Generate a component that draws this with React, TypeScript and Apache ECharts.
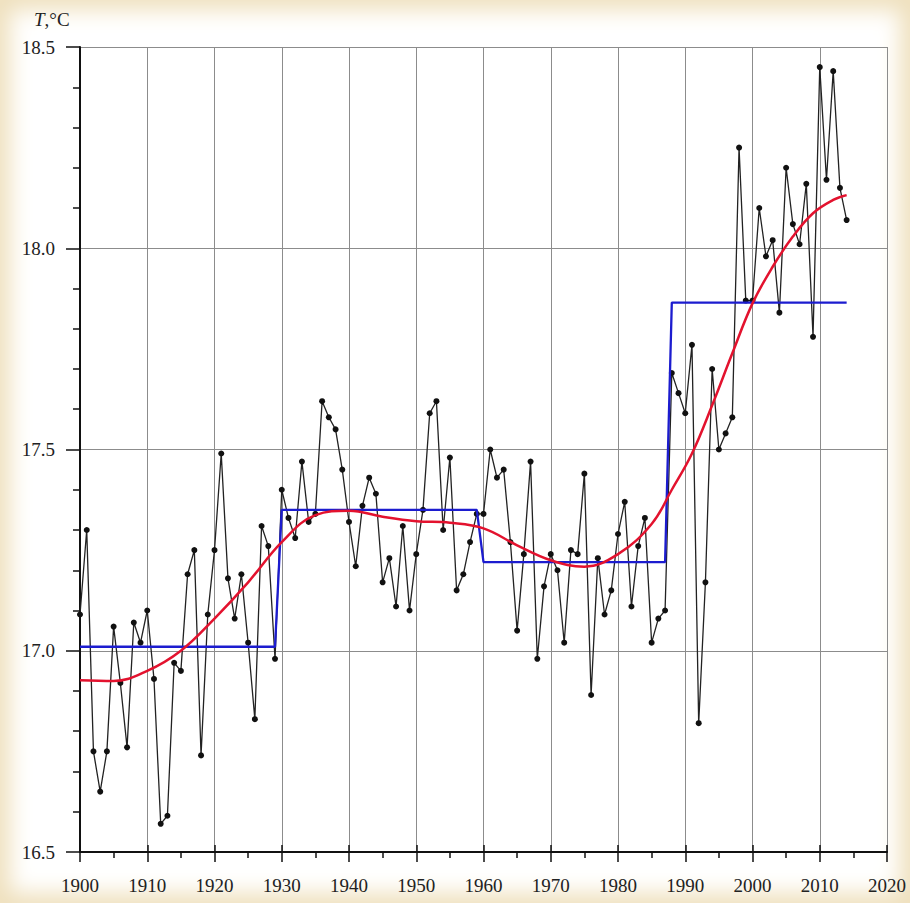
import React, { useEffect, useRef } from "react";
import * as echarts from "echarts";

// Annual mean temperature, 1900–2014
const years: number[] = [];
for (let y = 1900; y <= 2014; y++) years.push(y);

const temps: number[] = [
  17.09, 17.30, 16.75, 16.65, 16.75, 17.06, 16.92, 16.76, 17.07, 17.02,
  17.10, 16.93, 16.57, 16.59, 16.97, 16.95, 17.19, 17.25, 16.74, 17.09,
  17.25, 17.49, 17.18, 17.08, 17.19, 17.02, 16.83, 17.31, 17.26, 16.98,
  17.40, 17.33, 17.28, 17.47, 17.32, 17.34, 17.62, 17.58, 17.55, 17.45,
  17.32, 17.21, 17.36, 17.43, 17.39, 17.17, 17.23, 17.11, 17.31, 17.10,
  17.24, 17.35, 17.59, 17.62, 17.30, 17.48, 17.15, 17.19, 17.27, 17.34,
  17.34, 17.50, 17.43, 17.45, 17.27, 17.05, 17.24, 17.47, 16.98, 17.16,
  17.24, 17.20, 17.02, 17.25, 17.24, 17.44, 16.89, 17.23, 17.09, 17.15,
  17.29, 17.37, 17.11, 17.26, 17.33, 17.02, 17.08, 17.10, 17.69, 17.64,
  17.59, 17.76, 16.82, 17.17, 17.70, 17.50, 17.54, 17.58, 18.25, 17.87,
  17.87, 18.10, 17.98, 18.02, 17.84, 18.20, 18.06, 18.01, 18.16, 17.78,
  18.45, 18.17, 18.44, 18.15, 18.07,
];

// Period means (stepwise regime levels)
const stepStart = [1900, 1930, 1960, 1988];
const stepEnd = [1929, 1959, 1987, 2014];
const stepMean = [17.01, 17.35, 17.22, 17.865];

// Smoothed trend
const trendYears = [
  1900, 1905, 1910, 1915, 1920, 1925, 1930, 1935, 1940, 1945, 1950, 1955,
  1960, 1965, 1970, 1975, 1980, 1985, 1988, 1991, 1994, 1997, 2000, 2003,
  2006, 2009, 2012, 2014,
];
const trendValues = [
  16.927, 16.925, 16.95, 17.0, 17.08, 17.17, 17.27, 17.337, 17.348, 17.333,
  17.322, 17.318, 17.304, 17.262, 17.225, 17.209, 17.24, 17.315, 17.4, 17.49,
  17.61, 17.739, 17.863, 17.954, 18.029, 18.087, 18.12, 18.132,
];

const SERIF = "'Liberation Serif', 'Times New Roman', serif";

export default function App() {
  const ref = useRef<HTMLDivElement>(null);

  useEffect(() => {
    document.body.style.margin = "0";
    if (!ref.current) return;
    const chart = echarts.init(ref.current, null, { renderer: "svg" });

    const stepData: number[][] = [];
    stepMean.forEach((m, i) => {
      stepData.push([stepStart[i], m]);
      stepData.push([stepEnd[i], m]);
    });

    const tickStyle = { color: "#111", width: 1.5 };

    chart.setOption({
      animation: false,
      backgroundColor: "transparent",
      grid: { left: 80, right: 23, top: 47, bottom: 51 },
      graphic: [
        {
          type: "text",
          left: 34,
          top: 10,
          style: {
            text: "{i|T},°C",
            font: `19px ${SERIF}`,
            fill: "#222",
            rich: {
              i: { fontStyle: "italic", fontFamily: SERIF, fontSize: 19, fill: "#222" },
            },
          },
        },
      ],
      xAxis: [
        {
          type: "value",
          min: 1900,
          max: 2020,
          interval: 10,
          axisLine: { show: true, onZero: false, lineStyle: { color: "#111", width: 2 } },
          axisTick: { show: true, length: 10, lineStyle: tickStyle },
          minorTick: { show: true, splitNumber: 2, length: 6, lineStyle: tickStyle },
          axisLabel: {
            margin: 24,
            fontFamily: SERIF,
            fontSize: 19,
            color: "#222",
            formatter: (v: number) => String(v),
          },
          splitLine: { show: true, lineStyle: { color: "#8c8c8c", width: 1 } },
        },
        {
          type: "value",
          min: 1900,
          max: 2020,
          interval: 10,
          position: "bottom",
          axisLine: { show: false },
          axisTick: { show: true, inside: true, length: 7, lineStyle: tickStyle },
          axisLabel: { show: false },
          splitLine: { show: false },
        },
      ],
      yAxis: {
        type: "value",
        min: 16.5,
        max: 18.5,
        interval: 0.5,
        axisLine: { show: true, onZero: false, lineStyle: { color: "#111", width: 2 } },
        axisTick: { show: true, length: 14, lineStyle: tickStyle },
        minorTick: { show: true, splitNumber: 5, length: 7, lineStyle: tickStyle },
        axisLabel: {
          margin: 25,
          fontFamily: SERIF,
          fontSize: 19,
          color: "#222",
          formatter: (v: number) => v.toFixed(1),
        },
        splitLine: { show: true, lineStyle: { color: "#8c8c8c", width: 1 } },
      },
      series: [
        {
          name: "Annual",
          type: "line",
          data: years.map((y, i) => [y, temps[i]]),
          symbol: "circle",
          symbolSize: 6,
          showAllSymbol: true,
          lineStyle: { color: "#222", width: 1.3 },
          itemStyle: { color: "#111" },
          z: 3,
        },
        {
          name: "Period mean",
          type: "line",
          data: stepData,
          showSymbol: false,
          lineStyle: { color: "#1c1ccf", width: 2.3 },
          z: 4,
        },
        {
          name: "Trend",
          type: "line",
          data: trendYears.map((y, i) => [y, trendValues[i]]),
          smooth: 0.4,
          showSymbol: false,
          lineStyle: { color: "#e3122e", width: 2.5 },
          z: 5,
        },
      ],
    });

    return () => chart.dispose();
  }, []);

  return (
    <div
      style={{
        position: "absolute",
        left: 0,
        top: 0,
        width: 910,
        height: 903,
        background: "#ffffff",
        boxShadow: "inset 0 0 22px 10px #efe0bd",
      }}
    >
      <div ref={ref} style={{ width: 910, height: 903 }} />
    </div>
  );
}
